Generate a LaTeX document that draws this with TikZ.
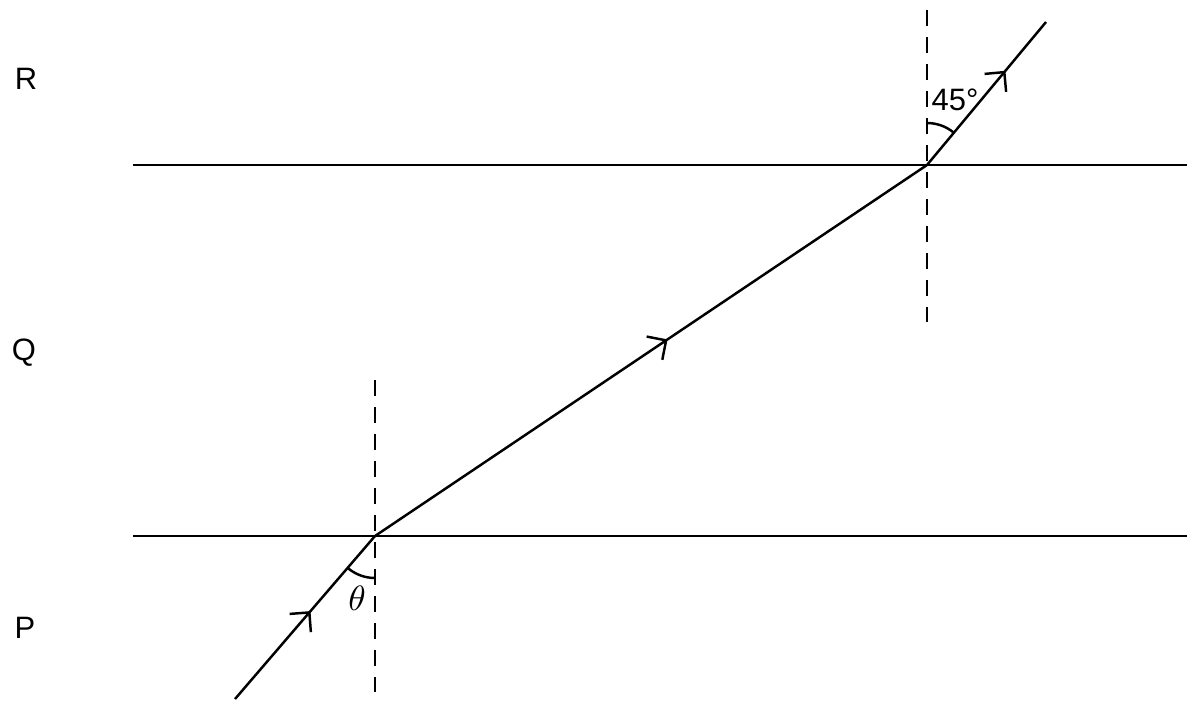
\documentclass[tikz,border=0pt]{standalone}
\usepackage{fontspec}
\setsansfont{Liberation Sans}
\usetikzlibrary{arrows.meta,decorations.markings,calc}
\tikzset{
	ray/.style={line width=0.7pt, postaction={decorate}, decoration={markings,
		mark=at position #1 with {\arrow{Straight Barb[length=1.4mm,width=2.8mm,line width=0.7pt]}}}},
	normal/.style={thin, dashed, dash pattern=on 1.6mm off 1.1mm},
	layer/.style={font=\sffamily\fontsize{8.8}{10}\selectfont}
}
\begin{document}
\begin{tikzpicture}
			\useasboundingbox (0,0) rectangle (11.92,7.03);
			%Points
			\coordinate (S) at (2.35,0.04);
			\coordinate (A) at (3.75,1.67);
			\coordinate (B) at (9.27,5.38);
			\coordinate (E) at (10.46,6.81);
			%Boundaries
			\draw[line width=0.7pt] (1.33,5.38) -- (11.87,5.38);
			\draw[line width=0.7pt] (1.33,1.67) -- (11.87,1.67);
			%Normals
			\draw[normal] (3.75,3.23) -- (3.75,0.11);
			\draw[normal] (9.27,6.93) -- (9.27,3.81);
			%Ray
			\draw[ray=0.54] (S) -- (A);
			\draw[ray=0.53] (A) -- (B);
			\draw[ray=0.66] (B) -- (E);
			%Angles
			\draw[line width=0.7pt] ($(B)+(0,0.42)$) arc (90:50.4:0.42);
			\draw[line width=0.7pt] ($(A)+(0,-0.42)$) arc (270:229.3:0.42);
			\node[layer] at (9.55,6.03) {45\textdegree};
			\node at (3.57,1.05) {$\theta$};
			%Media
			\node[layer] (R) at (0.26,6.24) {R};
			\node[layer] (Q) at (0.24,3.50) {Q};
			\node[layer] (P) at (0.25,0.75) {P};
\end{tikzpicture}
\end{document}
